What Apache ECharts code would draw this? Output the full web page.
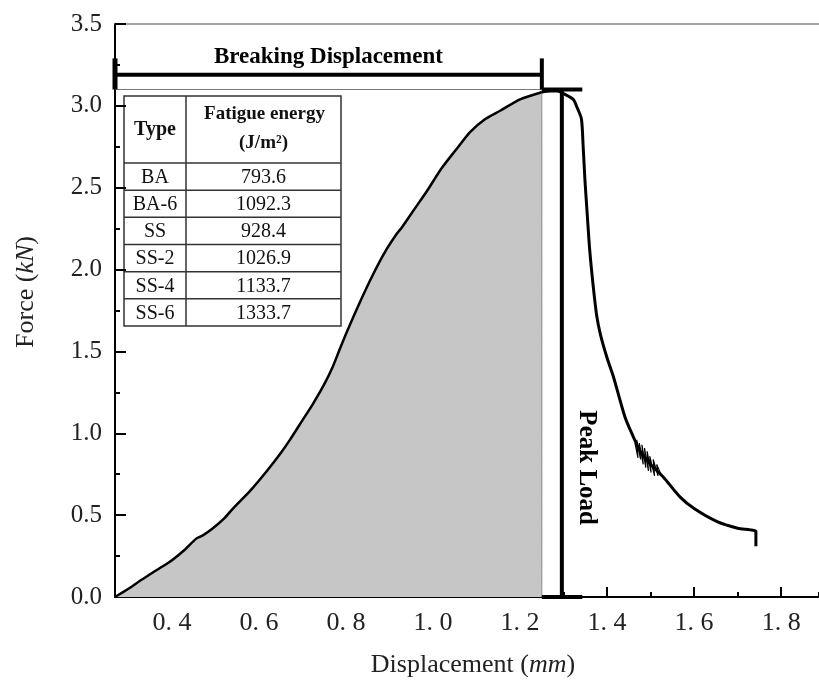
<!DOCTYPE html>
<html>
<head>
<meta charset="utf-8">
<script src="https://cdn.jsdelivr.net/npm/echarts@6/dist/echarts.min.js"></script>
<style>
html,body{margin:0;padding:0;background:#fff;}
#chart{width:819px;height:682px;}
</style>
</head>
<body>
<div id="chart"></div>
<script>
// ---------- data ----------
const xRange = [0.269, 1.887];
const yRange = [0, 3.5];
const xTickValues = [0.4, 0.6, 0.8, 1.0, 1.2, 1.4, 1.6, 1.8];
const xTickLabels = ['0. 4', '0. 6', '0. 8', '1. 0', '1. 2', '1. 4', '1. 6', '1. 8'];
const yTickValues = [0, 0.5, 1.0, 1.5, 2.0, 2.5, 3.0, 3.5];
const yTickLabels = ['0.0', '0.5', '1.0', '1.5', '2.0', '2.5', '3.0', '3.5'];

// force-displacement curve [displacement mm, force kN]
const curveRise = [
  [0.269,0.00],[0.30,0.05],[0.33,0.105],[0.365,0.165],[0.40,0.225],[0.43,0.29],[0.455,0.355],
  [0.47,0.375],[0.494,0.42],[0.52,0.48],[0.54,0.54],[0.58,0.65],[0.618,0.77],[0.65,0.88],
  [0.671,0.96],[0.70,1.08],[0.724,1.18],[0.75,1.30],[0.77,1.41],[0.785,1.51],[0.802,1.62],
  [0.83,1.79],[0.862,1.97],[0.89,2.11],[0.917,2.22],[0.929,2.26],[0.96,2.38],[0.986,2.48],
  [1.02,2.62],[1.055,2.74],[1.085,2.84],[1.12,2.92],[1.154,2.97],[1.20,3.04],[1.246,3.08],
  [1.25,3.085]
];
const curveFall = [
  [1.27,3.09],[1.285,3.09],[1.303,3.07],[1.322,3.04],[1.331,2.99],[1.341,2.92],[1.345,2.75],
  [1.349,2.55],[1.354,2.35],[1.360,2.12],[1.368,1.90],[1.376,1.72],[1.385,1.60],[1.40,1.46],
  [1.414,1.35],[1.441,1.10],[1.46,0.98],[1.476,0.89],[1.50,0.81],
  [1.53,0.73],[1.568,0.61],[1.60,0.54],[1.653,0.46],[1.70,0.42],[1.729,0.41],[1.742,0.40],
  [1.742,0.31]
];
// noisy cluster of the record near 1.5 mm
const noisePoints = [
  [1.464,0.94],[1.471,0.85],[1.468,0.96],[1.477,0.84],[1.474,0.94],[1.483,0.81],[1.480,0.93],
  [1.489,0.79],[1.486,0.91],[1.495,0.77],[1.492,0.89],[1.501,0.76],[1.498,0.86],[1.509,0.74],
  [1.506,0.84],[1.517,0.74],[1.514,0.81],[1.525,0.74]
];

// annotations (data units)
const breakDisp = 1.25;
const peakDisp = 1.296;
const peakForce = 3.1;
const bracketForce = 3.19;
const bracketCap = [3.10, 3.29];
const peakCap = [1.25, 1.343];
const peakLabelForce = 0.79;

// table
const tableTypes = ['BA', 'BA-6', 'SS', 'SS-2', 'SS-4', 'SS-6'];
const tableEnergy = ['793.6', '1092.3', '928.4', '1026.9', '1133.7', '1333.7'];

// ---------- chart ----------
const serif = '"Liberation Serif", "DejaVu Serif", serif';
const fillData = curveRise.concat([[breakDisp, 0]]);

function buildTable() {
  const L = 124, T = 96, R = 341, C = 186, H = 163, B = 326;
  const rowH = (B - H) / tableTypes.length;
  const stroke = {stroke: '#333', lineWidth: 1.5};
  const els = [];
  els.push({type: 'rect', shape: {x: L, y: T, width: R - L, height: B - T}, style: {fill: '#fff', stroke: '#333', lineWidth: 1.5}});
  els.push({type: 'line', shape: {x1: C, y1: T, x2: C, y2: B}, style: stroke});
  els.push({type: 'line', shape: {x1: L, y1: H, x2: R, y2: H}, style: stroke});
  for (let i = 1; i < tableTypes.length; i++) {
    const y = H + rowH * i;
    els.push({type: 'line', shape: {x1: L, y1: y, x2: R, y2: y}, style: stroke});
  }
  els.push({type: 'text', x: (L + C) / 2, y: (T + H) / 2, style: {text: 'Type', font: 'bold 20px ' + serif, fill: '#111', align: 'center', verticalAlign: 'middle'}});
  els.push({type: 'text', x: (C + R) / 2 + 1, y: 114, style: {text: 'Fatigue energy', font: 'bold 19px ' + serif, fill: '#111', align: 'center', verticalAlign: 'middle'}});
  els.push({type: 'text', x: (C + R) / 2, y: 143, style: {text: '(J/m²)', font: 'bold 19px ' + serif, fill: '#111', align: 'center', verticalAlign: 'middle'}});
  tableTypes.forEach((t, i) => {
    const y = H + rowH * (i + 0.5) + 1;
    els.push({type: 'text', x: (L + C) / 2, y: y, style: {text: t, font: '20px ' + serif, fill: '#111', align: 'center', verticalAlign: 'middle'}});
    els.push({type: 'text', x: (C + R) / 2, y: y, style: {text: tableEnergy[i], font: '20px ' + serif, fill: '#111', align: 'center', verticalAlign: 'middle'}});
  });
  return els;
}

const chart = echarts.init(document.getElementById('chart'), null, {renderer: 'canvas'});
const grid = {left: 115, right: 0, top: 24, bottom: 85, containLabel: false};

const option = {
  animation: false,
  backgroundColor: '#fff',
  grid: grid,
  xAxis: [
    {
      type: 'value', min: xRange[0], max: xRange[1], minInterval: 0.2, maxInterval: 0.2,
      position: 'bottom', splitLine: {show: false},
      axisLine: {onZero: false, lineStyle: {color: '#000', width: 2}},
      axisTick: {inside: true, length: 10, lineStyle: {color: '#000', width: 2}},
      axisLabel: {
        showMinLabel: false, showMaxLabel: false, margin: 13, color: '#222',
        fontFamily: serif, fontSize: 26,
        formatter: v => {
          const i = xTickValues.findIndex(t => Math.abs(t - v) < 1e-6);
          return i >= 0 ? xTickLabels[i] : '';
        }
      }
    },
    {
      type: 'value', min: xRange[0], max: xRange[1], minInterval: 0.1, maxInterval: 0.1,
      position: 'bottom', splitLine: {show: false},
      axisLine: {show: false},
      axisTick: {inside: true, length: 5, lineStyle: {color: '#000', width: 2}},
      axisLabel: {show: false}
    },
    {
      type: 'value', min: xRange[0], max: xRange[1], position: 'top', splitLine: {show: false},
      axisLine: {onZero: false, lineStyle: {color: '#888', width: 1.5}},
      axisTick: {show: false}, axisLabel: {show: false}
    }
  ],
  yAxis: {
    type: 'value', min: yRange[0], max: yRange[1], interval: 0.5, splitLine: {show: false},
    axisLine: {onZero: false, lineStyle: {color: '#000', width: 2}},
    axisTick: {inside: true, length: 11, lineStyle: {color: '#000', width: 2}},
    minorTick: {show: true, splitNumber: 2, length: 5, lineStyle: {color: '#000', width: 2}},
    axisLabel: {
      margin: 13, color: '#222', fontFamily: serif, fontSize: 25,
      formatter: v => {
        const i = yTickValues.findIndex(t => Math.abs(t - v) < 1e-6);
        return i >= 0 ? yTickLabels[i] : '';
      }
    }
  },
  series: [
    {
      type: 'line', data: fillData, showSymbol: false, z: 1, smooth: 0.25,
      lineStyle: {color: '#8a8a8a', width: 1},
      areaStyle: {color: '#c6c6c6', opacity: 1}
    },
    {
      type: 'line', data: curveRise, showSymbol: false, z: 3, smooth: 0.25,
      lineStyle: {color: '#000', width: 2.5}
    },
    {
      type: 'line', data: [curveRise[curveRise.length - 1]].concat(curveFall), showSymbol: false, z: 3, smooth: 0.25,
      lineStyle: {color: '#000', width: 3}
    },
    {
      type: 'line', data: noisePoints, showSymbol: false, z: 3,
      lineStyle: {color: '#000', width: 1.2}
    },
    {
      type: 'custom', z: 4, data: [[breakDisp, peakForce]], clip: false,
      renderItem: function (params, api) {
        const p = (x, y) => api.coord([x, y]);
        const thick = {stroke: '#000', lineWidth: 4};
        const a = p(xRange[0], bracketForce), b = p(breakDisp, bracketForce);
        const ln = (u, v, st) => ({type: 'line', shape: {x1: u[0], y1: u[1], x2: v[0], y2: v[1]}, style: st});
        const pk = p(peakDisp, peakLabelForce);
        return {
          type: 'group',
          children: [
            ln(p(xRange[0], peakForce), p(breakDisp, peakForce), {stroke: '#777', lineWidth: 1}),
            ln(a, b, thick),
            ln(p(xRange[0], bracketCap[0]), p(xRange[0], bracketCap[1]), {stroke: '#000', lineWidth: 5}),
            ln(p(breakDisp, bracketCap[0]), p(breakDisp, bracketCap[1]), thick),
            ln(p(peakDisp, peakForce), p(peakDisp, 0), thick),
            ln(p(peakCap[0], peakForce), p(peakCap[1], peakForce), thick),
            ln(p(peakCap[0], 0), p(peakCap[1], 0), thick),
            {type: 'text', x: (a[0] + b[0]) / 2, y: a[1] - 18,
              style: {text: 'Breaking Displacement', font: 'bold 23px ' + serif, fill: '#000', align: 'center', verticalAlign: 'middle'}},
            {type: 'text', x: pk[0] + 25, y: pk[1], rotation: -Math.PI / 2,
              style: {text: 'Peak Load', font: 'bold 25px ' + serif, fill: '#000', align: 'center', verticalAlign: 'middle'}}
          ]
        };
      }
    }
  ],
  graphic: buildTable().concat([
    {type: 'text', x: 26, y: 292, rotation: Math.PI / 2,
      style: {text: '{a|Force (}{i|kN}{a|)}', align: 'center', verticalAlign: 'middle',
        rich: {a: {font: '26px ' + serif, fill: '#222'}, i: {font: 'italic 26px ' + serif, fill: '#222'}}}},
    {type: 'text', x: 473, y: 665,
      style: {text: '{a|Displacement (}{i|mm}{a|)}', align: 'center', verticalAlign: 'middle',
        rich: {a: {font: '26px ' + serif, fill: '#222'}, i: {font: 'italic 26px ' + serif, fill: '#222'}}}}
  ])
};
chart.setOption(option);
</script>
</body>
</html>
